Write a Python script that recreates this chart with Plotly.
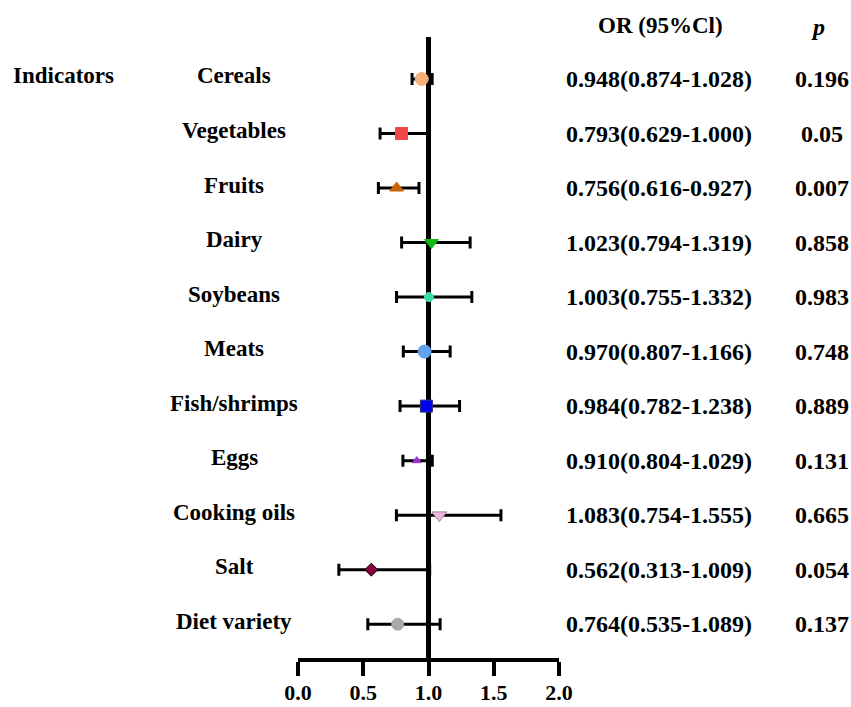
import plotly.graph_objects as go

# Odds ratios (95% CI) of dietary indicators
indicators = ["Cereals", "Vegetables", "Fruits", "Dairy", "Soybeans", "Meats",
              "Fish/shrimps", "Eggs", "Cooking oils", "Salt", "Diet variety"]
or_vals = [0.948, 0.793, 0.756, 1.023, 1.003, 0.970, 0.984, 0.910, 1.083, 0.562, 0.764]
ci_low = [0.874, 0.629, 0.616, 0.794, 0.755, 0.807, 0.782, 0.804, 0.754, 0.313, 0.535]
ci_high = [1.028, 1.000, 0.927, 1.319, 1.332, 1.166, 1.238, 1.029, 1.555, 1.009, 1.089]
p_labels = ["0.196", "0.05", "0.007", "0.858", "0.983", "0.748", "0.889", "0.131",
            "0.665", "0.054", "0.137"]
x_ticks = [0.0, 0.5, 1.0, 1.5, 2.0]

# Marker styling per indicator
symbols = ["circle", "square", "triangle-up", "triangle-down", "circle", "circle",
           "square", "triangle-up", "triangle-down", "diamond", "circle"]
colors = ["#F5B07A", "#F04848", "#C8660E", "#14B814", "#3ADFA0", "#62A2EE",
          "#0000F0", "#A030D0", "#F2B4E2", "#8A0040", "#A8A8A8"]
edge_colors = ["#F5B07A", "#F04848", "#C8660E", "#14B814", "#3ADFA0", "#62A2EE",
               "#303080", "#A030D0", "#909090", "#000000", "#A8A8A8"]
sizes = [13, 12, 12, 12, 9, 13, 12, 8, 13, 10, 12]

FONT = "Liberation Serif"
W, H = 851, 707
rows = list(range(len(indicators)))


def bold(s):
    return f"<b>{s}</b>"


fig = go.Figure()

for i in rows:
    fig.add_trace(go.Scatter(
        x=[or_vals[i]], y=[i], mode="markers",
        marker=dict(symbol=symbols[i], color=colors[i], size=sizes[i],
                    line=dict(color=edge_colors[i], width=1)),
        error_x=dict(type="data", symmetric=False,
                     array=[ci_high[i] - or_vals[i]],
                     arrayminus=[or_vals[i] - ci_low[i]],
                     color="black", thickness=3, width=6),
        showlegend=False, hoverinfo="skip", cliponaxis=False,
    ))

# Reference line at OR = 1
fig.add_shape(type="line", xref="x", yref="y domain", x0=1, x1=1, y0=0, y1=1,
              line=dict(color="black", width=5), layer="below")

annotations = []
label_font = dict(family=FONT, size=23, color="black")
num_font = dict(family=FONT, size=24, color="black")
for i in rows:
    annotations.append(dict(xref="paper", yref="y", x=234 / W, y=i, yshift=3,
                            text=bold(indicators[i]), showarrow=False, font=label_font,
                            xanchor="center", yanchor="middle"))
    annotations.append(dict(xref="paper", yref="y", x=659 / W, y=i,
                            text=bold(f"{or_vals[i]:.3f}({ci_low[i]:.3f}-{ci_high[i]:.3f})"),
                            showarrow=False, font=num_font,
                            xanchor="center", yanchor="middle"))
    annotations.append(dict(xref="paper", yref="y", x=822 / W, y=i,
                            text=bold(p_labels[i]), showarrow=False, font=num_font,
                            xanchor="center", yanchor="middle"))

annotations.append(dict(xref="paper", yref="y", x=63 / W, y=0, yshift=3,
                        text=bold("Indicators"), showarrow=False, font=label_font,
                        xanchor="center", yanchor="middle"))
annotations.append(dict(xref="paper", yref="paper", x=660 / W, y=1 - 25 / H,
                        text=bold("OR (95%Cl)"), showarrow=False,
                        font=dict(family=FONT, size=23, color="black"),
                        xanchor="center", yanchor="middle"))
annotations.append(dict(xref="paper", yref="paper", x=818 / W, y=1 - 27 / H,
                        text="<b><i>p</i></b>", showarrow=False,
                        font=dict(family=FONT, size=24, color="black"),
                        xanchor="center", yanchor="middle"))

fig.update_layout(
    template="none",
    width=W, height=H,
    margin=dict(l=0, r=0, t=0, b=0, pad=0, autoexpand=False),
    paper_bgcolor="white", plot_bgcolor="white",
    showlegend=False,
    font=dict(family=FONT),
    annotations=annotations,
    xaxis=dict(domain=[298 / W, 559 / W], range=[0, 2], automargin=False,
               tickvals=x_ticks, ticktext=[bold(f"{v:.1f}") for v in x_ticks],
               showline=True, linewidth=4, linecolor="black",
               ticks="outside", ticklen=14, tickwidth=4, tickcolor="black",
               ticklabelstandoff=-2,
               showgrid=False, zeroline=False,
               tickfont=dict(family=FONT, size=22, color="black")),
    yaxis=dict(domain=[49 / H, 670 / H], range=[10.62, -0.77], automargin=False,
               visible=False, showgrid=False, zeroline=False),
)

fig.write_html("out.html")
